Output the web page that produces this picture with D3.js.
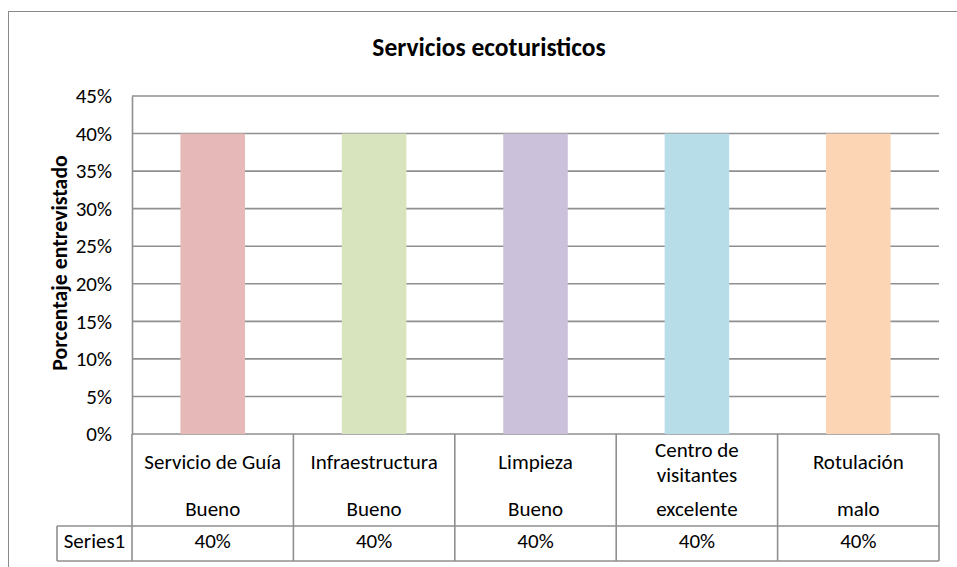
<!DOCTYPE html>
<html>
<head>
<meta charset="utf-8">
<script src="https://cdn.jsdelivr.net/npm/d3@7"></script>
<style>
  body { margin: 0; background: #fff; }
  text { font-family: Carlito, Calibri, "Open Sans", sans-serif; fill: #000; }
</style>
</head>
<body>
<div id="chart"></div>
<script>
// Data
const categories = ["Servicio de Guía", "Infraestructura", "Limpieza", "Centro de visitantes", "Rotulación"];
const catLines = [["Servicio de Guía"], ["Infraestructura"], ["Limpieza"], ["Centro de", "visitantes"], ["Rotulación"]];
const ratings = ["Bueno", "Bueno", "Bueno", "excelente", "malo"];
const values = [0.40, 0.40, 0.40, 0.40, 0.40];
const seriesName = "Series1";
const yTicks = [0, 0.05, 0.10, 0.15, 0.20, 0.25, 0.30, 0.35, 0.40, 0.45];
const colors = ["#E6B9B8", "#D7E4BD", "#CCC1DA", "#B7DEE8", "#FCD5B5"];

const W = 957, H = 567;
const plotLeft = 132, plotRight = 939, plotTop = 96, plotBottom = 434;
const rowBottom = 526, seriesBottom = 561, seriesLeft = 57;
const gridColor = "#8f8f8f";

var svg = d3.select("#chart").append("svg")
  .attr("width", W).attr("height", H);

// outer chart border
svg.append("rect")
  .attr("x", 8.5).attr("y", 11.5)
  .attr("width", W).attr("height", H)
  .attr("fill", "none").attr("stroke", "#8a8a8a").attr("stroke-width", 1);

// Title
svg.append("text")
  .attr("x", 489).attr("y", 56)
  .attr("text-anchor", "middle")
  .style("font-size", "25.5px").style("font-weight", "bold")
  .text("Servicios ecoturisticos");

// Scales
var xScale = d3.scaleBand()
  .domain(categories)
  .range([plotLeft, plotRight])
  .paddingInner(0.6).paddingOuter(0.3);

var yScale = d3.scaleLinear()
  .domain([0, 0.45])
  .range([plotBottom, plotTop]);

// Gridlines
svg.append("g")
  .selectAll("line")
  .data(yTicks)
  .enter().append("line")
    .attr("x1", plotLeft).attr("x2", plotRight)
    .attr("y1", d => yScale(d)).attr("y2", d => yScale(d))
    .attr("stroke", gridColor).attr("stroke-width", 1.6);

// Y axis
var yAxis = svg.append("g")
  .attr("transform", "translate(" + plotLeft + ",0)")
  .call(d3.axisLeft(yScale).tickValues(yTicks).tickFormat(d3.format(".0%")).tickSize(0).tickPadding(20));
yAxis.select(".domain").attr("stroke", gridColor).attr("stroke-width", 1.6);
yAxis.selectAll("text").style("font-size", "21px").style("font-family", null);

// Y axis label
svg.append("text")
  .attr("transform", "translate(67,263) rotate(-90)")
  .attr("text-anchor", "middle")
  .style("font-size", "21.8px").style("font-weight", "bold")
  .text("Porcentaje entrevistado");

// Bars
svg.append("g")
  .selectAll("rect")
  .data(values)
  .enter().append("rect")
    .attr("x", (d, i) => xScale(categories[i]))
    .attr("width", xScale.bandwidth())
    .attr("y", d => yScale(d))
    .attr("height", d => yScale(0) - yScale(d))
    .attr("fill", (d, i) => colors[i]);

// Data table
var table = svg.append("g")
  .attr("fill", "none").attr("stroke", gridColor).attr("stroke-width", 1.6);
var step = (plotRight - plotLeft) / categories.length;
var bounds = d3.range(categories.length + 1).map(i => plotLeft + i * step);

table.selectAll(".v")
  .data(bounds)
  .enter().append("line")
    .attr("x1", d => d).attr("x2", d => d)
    .attr("y1", plotBottom).attr("y2", seriesBottom);
table.append("line").attr("x1", seriesLeft).attr("x2", seriesLeft).attr("y1", rowBottom).attr("y2", seriesBottom);
table.append("line").attr("x1", seriesLeft).attr("x2", plotRight).attr("y1", rowBottom).attr("y2", rowBottom);
table.append("line").attr("x1", seriesLeft).attr("x2", plotRight).attr("y1", seriesBottom).attr("y2", seriesBottom);

var cells = svg.append("g").attr("text-anchor", "middle").style("font-size", "21px");
catLines.forEach(function(lines, i) {
  var cx = plotLeft + (i + 0.5) * step;
  var y0 = lines.length > 1 ? 457 : 469;
  lines.forEach(function(t, j) {
    cells.append("text").attr("x", cx).attr("y", y0 + j * 25).text(t);
  });
  cells.append("text").attr("x", cx).attr("y", 516).text(ratings[i]);
  cells.append("text").attr("x", cx).attr("y", 548).text(d3.format(".0%")(values[i]));
});
cells.append("text").attr("x", (seriesLeft + plotLeft) / 2).attr("y", 548).text(seriesName);
</script>
</body>
</html>
